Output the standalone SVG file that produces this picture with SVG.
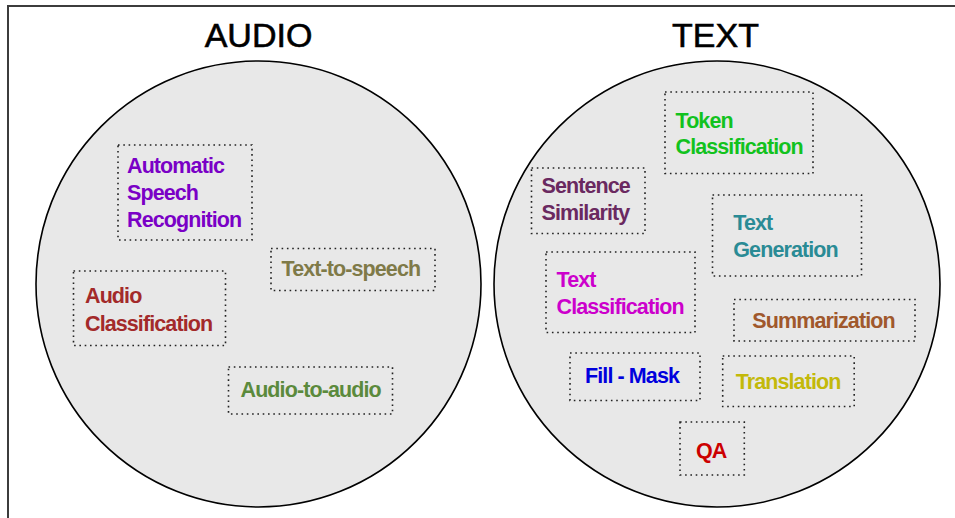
<svg xmlns="http://www.w3.org/2000/svg" width="955" height="518" viewBox="0 0 955 518">
  <style>
    .frame { fill: #ffffff; stroke: #3c3c3c; stroke-width: 2; }
    .domain { fill: #e8e8e8; stroke: #000000; stroke-width: 1.6; }
    .title { font-family: "Liberation Sans", Arial, sans-serif; font-size: 34px; fill: #000000; stroke: #000000; stroke-width: 0.6; text-anchor: middle; }
    .box { fill: none; stroke: #222222; stroke-width: 1.6; stroke-dasharray: 1.6 3.7; }
    .label { font-family: "Liberation Sans", Arial, sans-serif; font-size: 21.5px; font-weight: bold; letter-spacing: -0.9px; }
  </style>

  <!-- page frame -->
  <rect class="frame" x="8" y="6" width="960" height="530"/>

  <!-- audio domain -->
  <g id="audio">
    <ellipse class="domain" cx="258.5" cy="284" rx="222.5" ry="223"/>
    <text class="title" x="258.5" y="47">AUDIO</text>
  </g>

  <!-- text domain -->
  <g id="text">
    <ellipse class="domain" cx="717" cy="284" rx="223" ry="223"/>
    <text class="title" x="715.5" y="47">TEXT</text>
  </g>

  <!-- audio tasks -->
  <g id="automatic-speech-recognition">
    <rect class="box" x="118" y="145" width="134" height="95"/>
    <text class="label" fill="#7a00c6"><tspan x="127" y="172.5">Automatic</tspan><tspan x="127" y="200">Speech</tspan><tspan x="127" y="227">Recognition</tspan></text>
  </g>
  <g id="audio-classification">
    <rect class="box" x="73.5" y="271" width="152" height="74.5"/>
    <text class="label" fill="#a32a2a"><tspan x="85" y="303.3">Audio</tspan><tspan x="85" y="331">Classification</tspan></text>
  </g>
  <g id="text-to-speech">
    <rect class="box" x="271" y="248.5" width="164" height="42"/>
    <text class="label" fill="#7f7a48" x="281.5" y="275.7">Text-to-speech</text>
  </g>
  <g id="audio-to-audio">
    <rect class="box" x="228.5" y="367" width="164" height="47"/>
    <text class="label" fill="#5b8a3c" x="240.5" y="397.3">Audio-to-audio</text>
  </g>

  <!-- text tasks -->
  <g id="token-classification">
    <rect class="box" x="665" y="92" width="148" height="81.5"/>
    <text class="label" fill="#12c21e"><tspan x="675.5" y="128.3">Token</tspan><tspan x="675.5" y="154">Classification</tspan></text>
  </g>
  <g id="sentence-similarity">
    <rect class="box" x="531.5" y="168" width="113.5" height="65.5"/>
    <text class="label" fill="#6a2960"><tspan x="541.5" y="193.3">Sentence</tspan><tspan x="541.5" y="220">Similarity</tspan></text>
  </g>
  <g id="text-generation">
    <rect class="box" x="712.5" y="195" width="149" height="81"/>
    <text class="label" fill="#2a8b95"><tspan x="733.3" y="230">Text</tspan><tspan x="733.3" y="256.7">Generation</tspan></text>
  </g>
  <g id="text-classification">
    <rect class="box" x="546" y="252" width="149" height="80.5"/>
    <text class="label" fill="#cc00cc"><tspan x="556.5" y="287.3">Text</tspan><tspan x="556.5" y="314.3">Classification</tspan></text>
  </g>
  <g id="summarization">
    <rect class="box" x="734" y="299.5" width="181" height="41.5"/>
    <text class="label" fill="#a0582c" x="752.3" y="328.3">Summarization</text>
  </g>
  <g id="fill-mask">
    <rect class="box" x="570" y="353" width="130" height="47.5"/>
    <text class="label" fill="#0000dd" x="585" y="383.3">Fill - Mask</text>
  </g>
  <g id="translation">
    <rect class="box" x="722.7" y="356" width="131.5" height="50.5"/>
    <text class="label" fill="#c3b90a" x="735.7" y="389.3">Translation</text>
  </g>
  <g id="qa">
    <rect class="box" x="680" y="422" width="64.3" height="53"/>
    <text class="label" fill="#cc0000" x="696" y="458.3">QA</text>
  </g>

  <!-- no connectors in this diagram -->
  <g id="connectors"/>
</svg>
